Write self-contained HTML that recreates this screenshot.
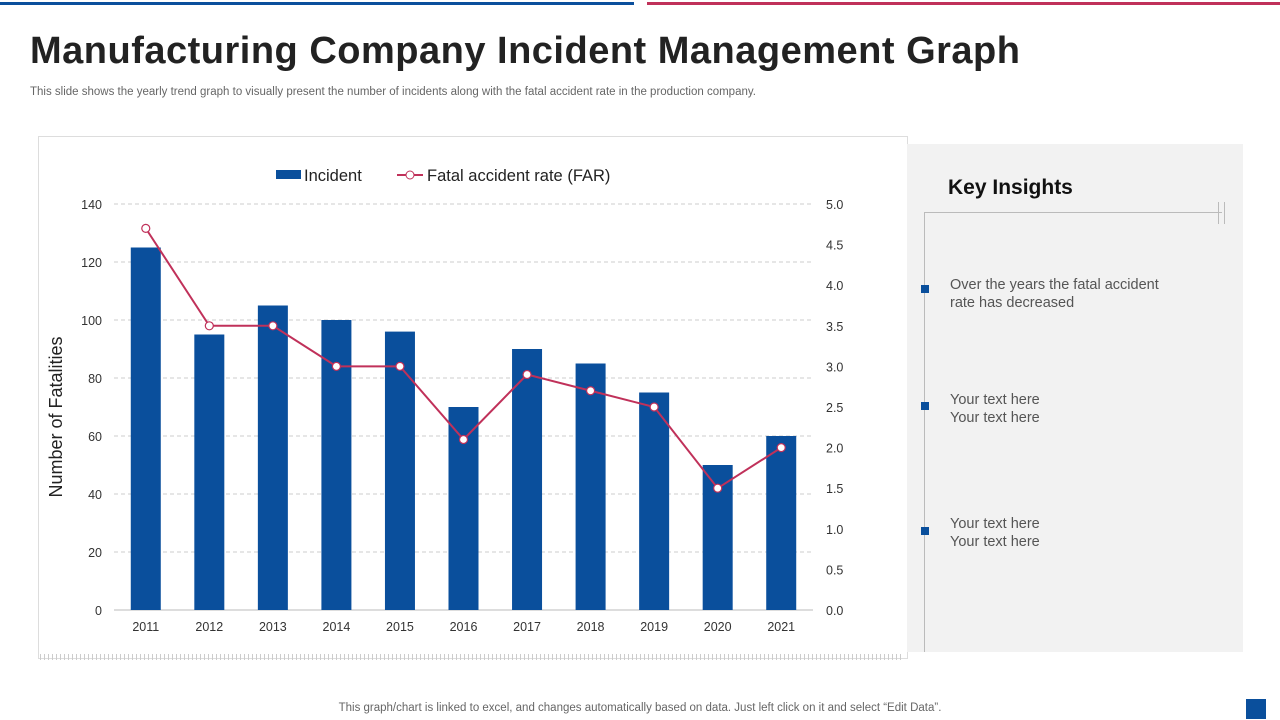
<!DOCTYPE html>
<html><head><meta charset="utf-8"><style>
body{margin:0;width:1280px;height:720px;position:relative;background:#fff;font-family:"Liberation Sans",sans-serif;overflow:hidden}
.abs{position:absolute}
</style></head><body>
<div class="abs" style="left:0;top:2px;width:634px;height:3px;background:#0a4f9c"></div>
<div class="abs" style="left:647px;top:2px;width:633px;height:3px;background:#c0315a"></div>
<div class="abs" style="left:30px;top:30px;font-size:38px;font-weight:bold;color:#222;letter-spacing:0.5px">Manufacturing Company Incident Management Graph</div>
<div class="abs" style="left:30px;top:86px;font-size:11.5px;color:#666">This slide shows the yearly trend graph to visually present the number of incidents along with the fatal accident rate in the production company.</div>
<div class="abs" style="left:38px;top:136px;width:868px;height:521px;border:1px solid #ddd"></div>
<div class="abs" style="left:40px;top:654px;width:864px;height:6px;background:repeating-linear-gradient(90deg,#ccc 0 1px,transparent 1px 4px)"></div>
<svg class="abs" style="left:0;top:0" width="1280" height="720">
<g id="g"></g>
</svg>
<div class="abs" style="left:907px;top:144px;width:336px;height:508px;background:#f2f2f2"></div>
<div class="abs" style="left:948px;top:176px;font-size:21px;font-weight:bold;color:#111">Key Insights</div>
<div class="abs" style="left:924px;top:212px;width:298px;height:1px;background:#bbb"></div>
<div class="abs" style="left:1218px;top:202px;width:1px;height:22px;background:#bbb"></div>
<div class="abs" style="left:1224px;top:202px;width:1px;height:22px;background:#bbb"></div>
<div class="abs" style="left:924px;top:212px;width:1px;height:440px;background:#bbb"></div>
<div class="abs" style="left:921px;top:285px;width:8px;height:8px;background:#0a4f9c"></div>
<div class="abs" style="left:950px;top:276px;font-size:14.5px;color:#555;line-height:18px">Over the years the fatal accident<br>rate has decreased</div>
<div class="abs" style="left:921px;top:402px;width:8px;height:8px;background:#0a4f9c"></div>
<div class="abs" style="left:950px;top:391px;font-size:14.5px;color:#555;line-height:18px">Your text here<br>Your text here</div>
<div class="abs" style="left:921px;top:527px;width:8px;height:8px;background:#0a4f9c"></div>
<div class="abs" style="left:950px;top:515px;font-size:14.5px;color:#555;line-height:18px">Your text here<br>Your text here</div>
<div class="abs" style="left:0;width:1280px;text-align:center;top:702px;font-size:11.5px;color:#666">This graph/chart is linked to excel, and changes automatically based on data. Just left click on it and select “Edit Data”.</div>
<div class="abs" style="left:1246px;top:699px;width:20px;height:20px;background:#0a4f9c"></div>
<script>
const years=["2011","2012","2013","2014","2015","2016","2017","2018","2019","2020","2021"];
const incidents=[125,95,105,100,96,70,90,85,75,50,60];
const far=[4.7,3.5,3.5,3.0,3.0,2.1,2.9,2.7,2.5,1.5,2.0];
const leftTicks=[0,20,40,60,80,100,120,140];
const rightTicks=["0.0","0.5","1.0","1.5","2.0","2.5","3.0","3.5","4.0","4.5","5.0"];
const X0=114,X1=813,Y0=610,Y1=204,LMAX=140,RMAX=5;
const slot=(X1-X0)/years.length;
const xc=i=>X0+slot*(i+0.5);
const yl=v=>Y0-(Y0-Y1)*v/LMAX;
const yr=v=>Y0-(Y0-Y1)*v/RMAX;
const g=document.getElementById('g');const NS='http://www.w3.org/2000/svg';
function mk(t,a,txt){const e=document.createElementNS(NS,t);for(const k in a)e.setAttribute(k,a[k]);if(txt!=null)e.textContent=txt;g.appendChild(e);return e;}
leftTicks.forEach(v=>{
 if(v>0){const l=mk('line',{x1:X0,x2:X1,y1:yl(v),y2:yl(v),stroke:'#ccc','stroke-dasharray':'4,3'});
 
 }
 const t=mk('text',{x:102,y:yl(v)+5,'text-anchor':'end','font-size':12.5,fill:'#333','font-family':'Liberation Sans'},v);
 
 
});
rightTicks.forEach(s=>{
 const t=mk('text',{x:826,y:yr(parseFloat(s))+5,'font-size':12.5,fill:'#333','font-family':'Liberation Sans'},s);
 
 
});
const ax=mk('line',{x1:X0,x2:X1,y1:Y0,y2:Y0,stroke:'#bbb'});


years.forEach((y,i)=>{
 const b=mk('rect',{x:xc(i)-15,y:yl(incidents[i]),width:30,height:Y0-yl(incidents[i]),fill:'#0a4f9c'});
 
 
 const t=mk('text',{x:xc(i),y:631,'text-anchor':'middle','font-size':12.5,fill:'#333','font-family':'Liberation Sans'},y);
 
 
});
const pl=mk('polyline',{points:far.map((v,i)=>xc(i)+','+yr(v)).join(' '),fill:'none',stroke:'#c0315a','stroke-width':2});


far.forEach((v,i)=>{
 const c=mk('circle',{cx:xc(i),cy:yr(v),r:4,fill:'#fff',stroke:'#c0315a','stroke-width':1.2});
 
 
});
const yt=mk('text',{x:0,y:0,transform:'translate(62,417) rotate(-90)','text-anchor':'middle','font-size':18,fill:'#222','font-family':'Liberation Sans'},'Number of Fatalities');


const lr=mk('rect',{x:276,y:170,width:25,height:9,fill:'#0a4f9c'});


const lt=mk('text',{x:304,y:181,'font-size':16.5,fill:'#222','font-family':'Liberation Sans'},'Incident');


const ll=mk('line',{x1:397,x2:423,y1:175,y2:175,stroke:'#c0315a','stroke-width':2});


const lc=mk('circle',{cx:410,cy:175,r:4,fill:'#fff',stroke:'#c0315a'});


const lt2=mk('text',{x:427,y:181,'font-size':16.5,fill:'#222','font-family':'Liberation Sans'},'Fatal accident rate (FAR)');


</script>
</body></html>
